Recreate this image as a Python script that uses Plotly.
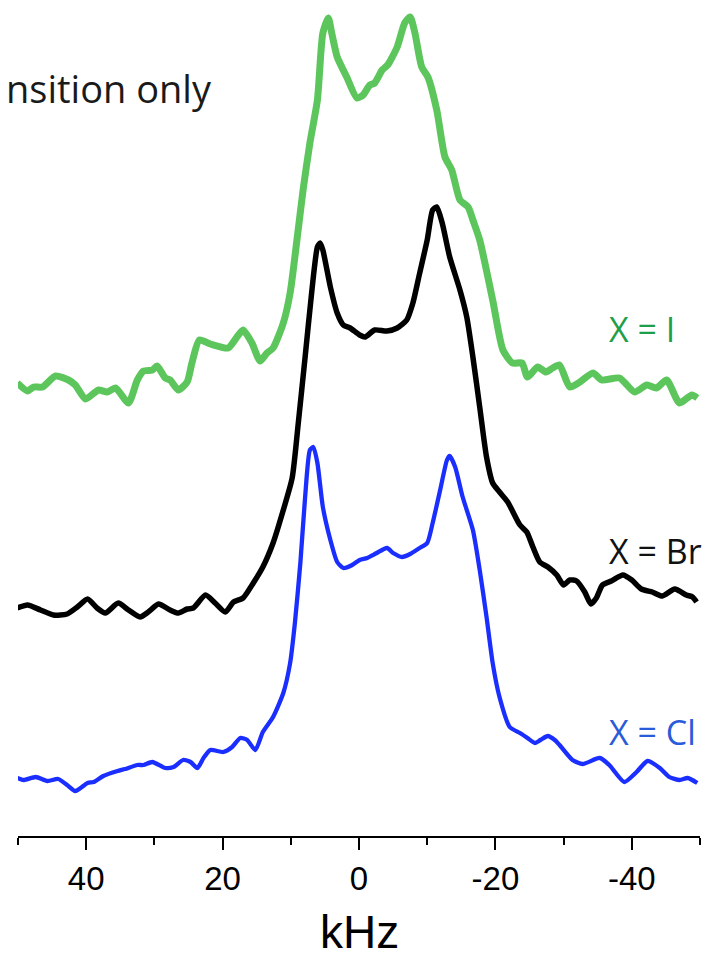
import plotly.graph_objects as go

# Frequency offset (kHz) and intensity (arb. units, relative to each trace's baseline)
khz_i = [50.1, 48.6, 47.7, 46.4, 44.5, 42.6, 41.6, 40.1, 38.2, 36.9, 35.7, 33.8, 32.5, 31.6,
         30.3, 29.6, 28.4, 27.7, 26.5, 25.2, 24.5, 23.4, 21.8, 19.2, 17.9, 17.0, 15.7, 14.5,
         13.5, 12.6, 11.1, 10.1, 9.1, 8.2, 7.2, 6.1, 5.3, 4.5, 4.0, 3.2, 1.8, 0.3, -0.6, -1.6,
         -2.3, -3.4, -4.2, -5.6, -6.7, -7.5, -8.2, -9.2, -10.1, -11.4, -12.6, -13.6, -14.8,
         -16.0, -16.7, -17.7, -19.6, -21.1, -22.5, -23.9, -24.7, -26.2, -27.4, -28.4, -29.4,
         -30.9, -32.4, -34.3, -35.6, -38.2, -40.4, -42.2, -43.6, -45.1, -47.0, -48.8, -49.6]
int_i = [2, -6, -2, -2, 9, 5, 0, -14, -5, -7, -3, -18, 5, 14,
         15, 19, 7, 5, -5, 3, 22, 45, 41, 37, 48, 55, 42, 24,
         32, 37, 62, 92, 145, 195, 242, 285, 352, 367, 352, 328, 308, 287, 290, 300,
         302, 315, 320, 338, 362, 368, 352, 318, 308, 275, 228, 215, 185,
         178, 165, 145, 85, 35, 22, 22, 8, 18, 13, 17, 20,
         -2, 3, 12, 5, 7, -7, 0, -3, 5, -18, -10, -13]

khz_br = [50.1, 48.6, 46.7, 44.8, 42.8, 41.3, 39.8, 38.4, 37.2, 35.3, 33.8, 32.1, 30.9, 29.4,
          27.7, 26.5, 25.2, 24.3, 22.5, 21.1, 19.6, 18.4, 17.0, 15.5, 14.1, 12.6, 11.1, 9.8,
          8.9, 7.9, 6.9, 6.1, 5.7, 5.3, 4.2, 3.2, 2.3, 1.3, -0.1, -0.9, -2.3, -4.1, -5.6,
          -7.0, -7.9, -8.9, -10.0, -10.8, -11.4, -12.2, -13.3, -14.8, -15.8, -16.7, -17.7,
          -18.7, -19.6, -20.6, -21.8, -23.6, -24.6, -25.5, -26.5, -27.7, -29.0, -30.0, -30.9,
          -31.9, -33.1, -34.0, -34.8, -35.7, -37.0, -38.7, -40.0, -41.4, -43.0, -44.5, -46.3,
          -48.0, -48.9, -49.5]
int_br = [-1, 2, -3, -8, -7, 0, 8, -1, -6, 4, -3, -10, -5, 3,
          -3, -6, -2, -1, 12, 4, -5, 5, 9, 24, 40, 64, 97, 129,
          184, 250, 317, 360, 364, 357, 320, 294, 282, 279, 272, 270, 277, 276, 279,
          287, 304, 334, 367, 397, 400, 384, 350, 317, 290, 250, 200,
          150, 124, 115, 105, 82, 75, 60, 45, 40, 32, 22, 27,
          26, 15, 3, 9, 22, 26, 32, 27, 18, 15, 11, 18,
          12, 10, 5]

khz_cl = [50.1, 49.2, 47.4, 45.7, 44.1, 42.8, 41.6, 39.8, 38.9, 37.5, 35.4, 34.3, 32.5, 31.6,
          30.3, 28.4, 27.2, 25.8, 24.7, 23.7, 22.8, 21.8, 19.9, 18.6, 17.4, 16.4, 15.2, 14.1,
          12.6, 11.1, 10.1, 9.4, 8.6, 7.9, 7.2, 6.7, 6.1, 5.3, 4.2, 3.2, 2.3, 1.0, -0.1, -1.2,
          -2.6, -4.1, -5.0, -6.3, -7.5, -8.9, -10.0, -10.8, -11.9, -12.9, -13.3, -14.1, -15.2,
          -16.7, -17.7, -18.7, -19.6, -20.6, -22.1, -23.6, -24.7, -25.8, -26.6, -27.7, -28.7,
          -29.4, -31.3, -32.8, -35.3, -36.7, -38.9, -40.7, -42.3, -44.1, -45.5, -47.0, -48.2,
          -49.6]
int_cl = [0, -2, 1, -3, -1, -7, -13, -5, -4, 2, 7, 9, 13, 13,
          16, 10, 11, 18, 16, 10, 20, 28, 26, 31, 40, 38, 28, 46,
          61, 85, 115, 155, 215, 281, 328, 331, 315, 271, 238, 216, 210, 213, 218, 220,
          225, 230, 225, 221, 224, 230, 235, 255, 288, 318, 322, 311, 281,
          248, 208, 161, 115, 81, 51, 45, 40, 35, 38, 42, 38,
          33, 18, 14, 20, 13, -4, 6, 17, 10, 1, -2, 0,
          -5]

labels = ["X = I", "X = Br", "X = Cl"]
tick_vals = [40, 20, 0, -20, -40]
tick_text = ["40", "20", "0", "-20", "-40"]

# Vertical stacking offsets and styling per trace
offsets = [451, 229, 58]
line_colors = ["#5cc65c", "#000000", "#1a2eff"]
label_colors = ["#1f9e4a", "#111111", "#2a5bd9"]
line_widths = [7, 5.5, 4.3]
label_y = [507, 285, 104]

series = [(khz_i, int_i), (khz_br, int_br), (khz_cl, int_cl)]

fig = go.Figure()
for (xs, ys), off, col, lw in zip(series, offsets, line_colors, line_widths):
    fig.add_trace(go.Scatter(
        x=xs, y=[v + off for v in ys], mode="lines",
        line=dict(color=col, width=lw, shape="spline", smoothing=0.6),
        showlegend=False, hoverinfo="skip"))

for text, col, yy in zip(labels, label_colors, label_y):
    fig.add_annotation(x=-36.3, y=yy, xref="x", yref="y", text=text,
                       showarrow=False, xanchor="left", yanchor="middle",
                       font=dict(family="Open Sans", size=34, color=col))

fig.add_annotation(x=21.2, y=748, xref="x", yref="y", text="nsition only",
                   showarrow=False, xanchor="right", yanchor="middle",
                   font=dict(family="Open Sans", size=38, color="#1a1a1a"))

fig.add_annotation(x=0.5, y=-0.1145, xref="paper", yref="paper", text="kHz",
                   showarrow=False, xanchor="center", yanchor="middle",
                   font=dict(family="Liberation Sans", size=46, color="#000"))

axis_font = "Liberation Sans Narrow, Liberation Sans, Arial, sans-serif"
fig.update_xaxes(range=[50, -50], showgrid=False, zeroline=False,
                 showline=True, linecolor="#000", linewidth=2,
                 ticks="outside", ticklen=12, tickwidth=2, tickcolor="#000",
                 tickvals=tick_vals, ticktext=tick_text,
                 tickfont=dict(family=axis_font, size=33, color="#000"),
                 minor=dict(tickvals=[50, 30, 10, -10, -30, -50], ticks="outside",
                            ticklen=7, tickwidth=2, tickcolor="#000"))
fig.update_yaxes(range=[0, 836], visible=False, showgrid=False, zeroline=False)

fig.update_layout(width=721, height=961, margin=dict(l=18, r=21, t=0, b=125),
                  plot_bgcolor="white", paper_bgcolor="white")

fig.write_html("out.html")
